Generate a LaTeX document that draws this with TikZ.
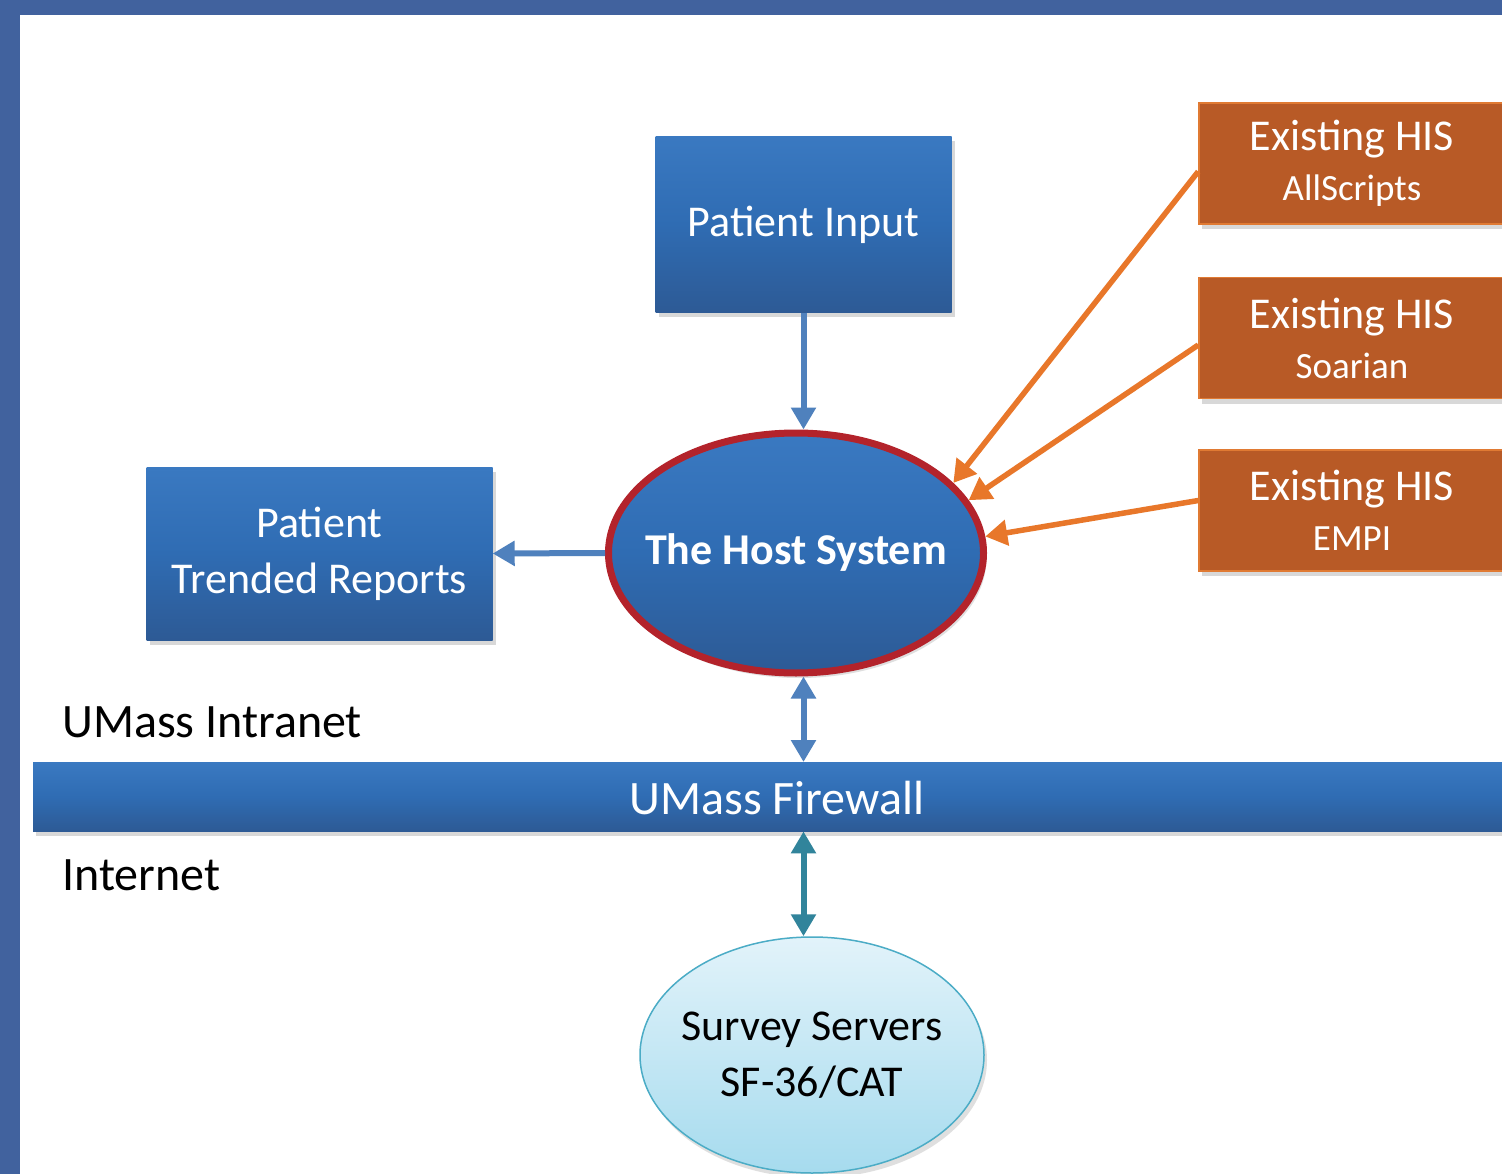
\documentclass[tikz,border=0pt]{standalone}
\usepackage{fontspec}
\setmainfont{Carlito}
\usetikzlibrary{shapes.geometric,arrows.meta,shadows}
\definecolor{bgblue}{HTML}{41629E}
\definecolor{boxtop}{HTML}{3A79C1}
\definecolor{boxmid}{HTML}{2F6CB3}
\definecolor{boxbot}{HTML}{2D5A95}
\definecolor{hisfill}{HTML}{B85A26}
\definecolor{hisedge}{HTML}{E07A33}
\definecolor{orline}{HTML}{E8772A}
\definecolor{arblue}{HTML}{4F81BD}
\definecolor{arteal}{HTML}{31849B}
\definecolor{hostred}{HTML}{B3232B}
\definecolor{srvtop}{HTML}{E2F3FA}
\definecolor{srvbot}{HTML}{A6DBEE}
\definecolor{srvedge}{HTML}{4BACC6}
\tikzset{
  bluebox/.style={rectangle, inner sep=0pt, top color=boxtop, bottom color=boxbot, middle color=boxmid,
    draw=none, text=white, align=center, font=\fontsize{44}{56}\selectfont,
    drop shadow={opacity=0.3, shadow xshift=3pt, shadow yshift=-5pt}},
  hisbox/.style={rectangle, inner sep=0pt, fill=hisfill, draw=hisedge, line width=1.5pt, text=white,
    align=center, minimum width=306pt, minimum height=121pt, font=\fontsize{44}{48}\selectfont,
    drop shadow={opacity=0.3, shadow xshift=3pt, shadow yshift=-5pt}},
  bluearrow/.style={draw=arblue, line width=6pt, -{Triangle[width=24pt,length=22pt]}},
  dblblue/.style={draw=arblue, line width=6pt, {Triangle[width=24pt,length=22pt]}-{Triangle[width=24pt,length=22pt]}},
  dblteal/.style={draw=arteal, line width=6pt, {Triangle[width=24pt,length=22pt]}-{Triangle[width=24pt,length=22pt]}},
  orarrow/.style={draw=orline, line width=5.5pt, -{Triangle[width=25pt,length=22pt]}},
  plain/.style={inner sep=0pt, anchor=west, font=\fontsize{48}{56}\selectfont},
}
\newcommand{\hissub}[1]{{\fontsize{37}{44}\selectfont #1}}
\begin{document}
\begin{tikzpicture}[x=1pt,y=-1pt]
\clip (0,0) rectangle (1502,1174);
\fill[bgblue] (0,0) rectangle (1502,1174);
\fill[white] (20,15) rectangle (1510,1180);

% boxes
\node[bluebox, minimum width=296pt, minimum height=176pt] (pin) at (803.5,224.5) {Patient Input};
\node[bluebox, minimum width=346pt, minimum height=173pt] (rep) at (319.5,553.5) {Patient\\Trended Reports};
\node[ellipse, inner xsep=-45pt, inner ysep=-20pt, minimum width=375pt, minimum height=240pt, draw=hostred, line width=7pt,
  top color=boxtop, bottom color=boxbot, middle color=boxmid, text=white,
  font=\bfseries\fontsize{44}{50}\selectfont,
  drop shadow={opacity=0.25, shadow xshift=3pt, shadow yshift=-5pt}] (host) at (796,553) {The Host System};

\node[hisbox] (his1) at (1352,163.5) {Existing HIS\\[2pt]\hissub{AllScripts}};
\node[hisbox] (his2) at (1352,338) {Existing HIS\\[2pt]\hissub{Soarian}};
\node[hisbox] (his3) at (1352,510.5) {Existing HIS\\[2pt]\hissub{EMPI}};

% firewall bar
\node[rectangle, inner sep=0pt, anchor=north west, minimum width=1490pt, minimum height=69pt,
  top color=boxtop, bottom color=boxbot, middle color=boxmid, text=white,
  drop shadow={opacity=0.3, shadow xshift=3pt, shadow yshift=-5pt}] (fw) at (33,762) {};
\node[text=white, font=\fontsize{48}{56}\selectfont, inner sep=0pt] (fwlabel) at (777,798) {UMass Firewall};

\node[plain] (intra) at (62,722) {UMass Intranet};
\node[plain] (inet) at (62,875) {Internet};

% survey servers
\node[ellipse, inner xsep=-45pt, inner ysep=-10pt, minimum width=344pt, minimum height=236pt, draw=srvedge, line width=1.5pt,
  top color=srvtop, bottom color=srvbot, text=black, align=center,
  font=\fontsize{44}{56}\selectfont,
  drop shadow={opacity=0.25, shadow xshift=3pt, shadow yshift=-5pt}] (srv) at (812,1055) {Survey Servers\\SF-36/CAT};

% connectors
\draw[bluearrow] (pin.south) -- (pin.south |- host.north);
\draw[bluearrow] (host.west) -- (rep.east);
\draw[dblblue] (pin.south |- host.south) -- (pin.south |- fw.north);
\draw[dblteal] (pin.south |- fw.south) -- (pin.south |- srv.north);

\draw[orarrow] ([yshift=-8pt]his1.west) -- (host.24.5);
\draw[orarrow] ([yshift=-7pt]his2.west) -- (host.17.5);
\draw[orarrow] ([yshift=10pt]his3.west) -- (host.5);
\end{tikzpicture}
\end{document}
